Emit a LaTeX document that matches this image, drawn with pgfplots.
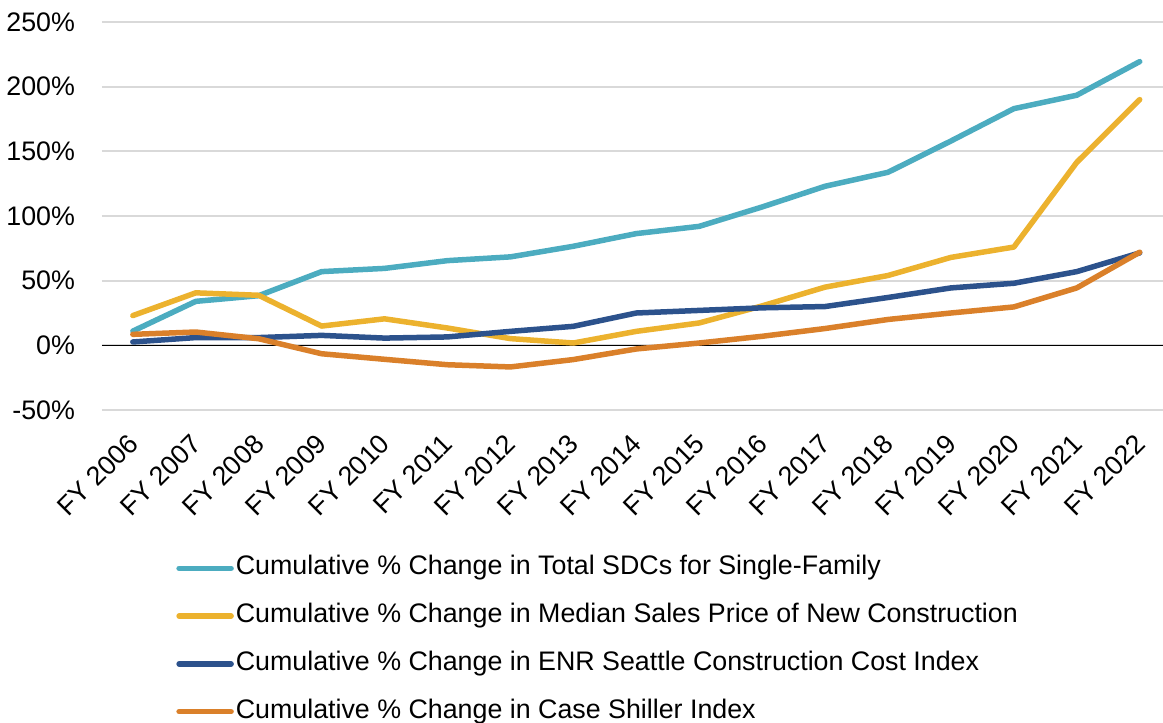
\documentclass[border=0pt]{standalone}
\usepackage{fontspec}
\setmainfont{Liberation Sans}
\usepackage{pgfplots}
\pgfplotsset{compat=1.18}
\usetikzlibrary{calc}

\definecolor{sdcTeal}{RGB}{76,172,192}
\definecolor{priceGold}{RGB}{236,178,46}
\definecolor{enrBlue}{RGB}{44,82,140}
\definecolor{csOrange}{RGB}{218,128,42}
\definecolor{gridGray}{RGB}{217,217,217}

\newcommand{\tickfont}{\fontsize{13.4}{16}\selectfont}
\newcommand{\legfont}{\fontsize{13.4}{16}\selectfont}

\begin{document}
\begin{tikzpicture}
\begin{axis}[
    scale only axis,
    width=530.5pt, height=194pt,
    xmin=-0.49, xmax=16.37,
    ymin=-50, ymax=250,
    xtick={0,...,16},
    xticklabels={FY 2006,FY 2007,FY 2008,FY 2009,FY 2010,FY 2011,FY 2012,FY 2013,FY 2014,FY 2015,FY 2016,FY 2017,FY 2018,FY 2019,FY 2020,FY 2021,FY 2022},
    ytick={-50,0,50,100,150,200,250},
    yticklabels={-50\%,0\%,50\%,100\%,150\%,200\%,250\%},
    extra y ticks={0},
    extra y tick labels={},
    extra y tick style={grid style={draw=black, line width=0.8pt}},
    ymajorgrids=true,
    grid style={draw=gridGray, line width=0.9pt},
    axis line style={draw=none},
    major tick length=0pt,
    tick label style={font=\tickfont},
    yticklabel style={anchor=east, xshift=-10pt},
    xticklabel style={xshift=2.7pt, yshift=-12pt, rotate=45, anchor=east},
    legend style={font=\legfont, draw=none, fill=none,
        at={(rel axis cs:0.0697,-0.367)}, anchor=north west,
        inner sep=0pt, row sep=8.4pt,
        nodes={inner sep=1pt, text height=10pt, text depth=3.5pt}},
    legend cell align={left},
    legend image code/.code={\draw[#1, line width=2.75pt, line cap=round] (0pt,0pt) -- (26pt,0pt);},
    every axis plot/.append style={line width=2.75pt, line join=round, line cap=round},
]
\addplot[sdcTeal] coordinates {(0,11) (1,34) (2,38.4) (3,57) (4,59.5) (5,65.5) (6,68.4) (7,76.6) (8,86.4) (9,92) (10,107) (11,123) (12,133.8) (13,158) (14,183) (15,193.4) (16,219.4)};
\addlegendentry{Cumulative \% Change in Total SDCs for Single-Family}
\addplot[priceGold] coordinates {(0,23) (1,40.6) (2,38.7) (3,14.9) (4,20.5) (5,13.4) (6,5.2) (7,1.8) (8,10.8) (9,17.3) (10,30.5) (11,45) (12,54) (13,68) (14,76) (15,141.5) (16,190)};
\addlegendentry{Cumulative \% Change in Median Sales Price of New Construction}
\addplot[enrBlue] coordinates {(0,2.6) (1,6) (2,6) (3,7.7) (4,5.6) (5,6.5) (6,10.8) (7,14.7) (8,25) (9,27) (10,29) (11,30) (12,37) (13,44.4) (14,48) (15,57) (16,71.5)};
\addlegendentry{Cumulative \% Change in ENR Seattle Construction Cost Index}
\addplot[csOrange] coordinates {(0,8.5) (1,10.3) (2,5.1) (3,-6.5) (4,-10.8) (5,-15) (6,-16.7) (7,-11) (8,-2.8) (9,1.8) (10,7) (11,13) (12,20) (13,25) (14,29.7) (15,44.4) (16,72)};
\addlegendentry{Cumulative \% Change in Case Shiller Index}
\end{axis}
\pgfresetboundingbox
\path ($(current axis.south west)+(-51pt,-156.5pt)$) rectangle ($(current axis.north east)+(0pt,11pt)$);
\end{tikzpicture}
\end{document}
